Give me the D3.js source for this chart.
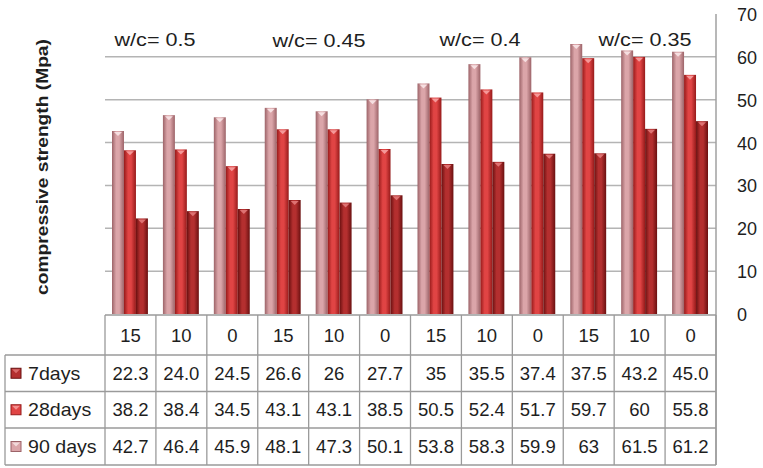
<!DOCTYPE html>
<html>
<head>
<meta charset="utf-8">
<script src="https://cdn.jsdelivr.net/npm/d3@7"></script>
<style>
  html, body { margin: 0; padding: 0; background: #fff; }
  svg { display: block; font-family: "Liberation Sans", Arial, Helvetica, sans-serif; }
</style>
</head>
<body>
<svg id="chart" width="763" height="468"></svg>
<script>
// Replacement level (%) per column, repeated for each w/c ratio
const categories = ["15", "10", "0", "15", "10", "0", "15", "10", "0", "15", "10", "0"];
const ratioLabels = ["w/c= 0.5", "w/c= 0.45", "w/c= 0.4", "w/c= 0.35"];
const seriesNames = ["7days", "28days", "90 days"];
const days7  = [22.3, 24.0, 24.5, 26.6, 26, 27.7, 35, 35.5, 37.4, 37.5, 43.2, 45.0];
const days28 = [38.2, 38.4, 34.5, 43.1, 43.1, 38.5, 50.5, 52.4, 51.7, 59.7, 60, 55.8];
const days90 = [42.7, 46.4, 45.9, 48.1, 47.3, 50.1, 53.8, 58.3, 59.9, 63, 61.5, 61.2];
const tableText7  = ["22.3", "24.0", "24.5", "26.6", "26", "27.7", "35", "35.5", "37.4", "37.5", "43.2", "45.0"];
const tableText28 = ["38.2", "38.4", "34.5", "43.1", "43.1", "38.5", "50.5", "52.4", "51.7", "59.7", "60", "55.8"];
const tableText90 = ["42.7", "46.4", "45.9", "48.1", "47.3", "50.1", "53.8", "58.3", "59.9", "63", "61.5", "61.2"];
const yTicks = [0, 10, 20, 30, 40, 50, 60, 70];

const svg = d3.select("#chart");
const plotLeft = 105, plotRight = 716, plotTop = 14, plotBottom = 314;
const tableTop = 315, headerBottom = 355, tableBottom = 465, labelLeft = 5;
const textColor = "#1e1e1e";
// horizontal centres of the w/c captions above the plot
const ratioLabelCenters = [155, 319, 480, 645];

const x = d3.scaleBand().domain(d3.range(categories.length)).range([plotLeft, plotRight]).padding(0);
const y = d3.scaleLinear().domain([0, 70]).range([plotBottom, plotTop]);

// series drawn left to right inside each column: 90 days, 28days, 7days
const barSeries = [
  { name: "90 days", values: days90, edge: "#9c6368", mid: "#dba5a9", hi: "#f8e6e7" },
  { name: "28days",  values: days28, edge: "#961a1a", mid: "#e04444", hi: "#f7a2a2" },
  { name: "7days",   values: days7,  edge: "#6a1010", mid: "#b42f2f", hi: "#e27a7a" }
];
const inner = d3.scaleBand().domain(barSeries.map(d => d.name)).range([7, x.bandwidth() - 8]).padding(0);

// cylinder-like horizontal gradients
const defs = svg.append("defs");
barSeries.forEach((s, i) => {
  const g = defs.append("linearGradient").attr("id", "grad" + i)
    .attr("x1", "0%").attr("x2", "100%").attr("y1", "0%").attr("y2", "0%");
  g.append("stop").attr("offset", "0%").attr("stop-color", s.edge);
  g.append("stop").attr("offset", "35%").attr("stop-color", s.mid);
  g.append("stop").attr("offset", "60%").attr("stop-color", s.mid);
  g.append("stop").attr("offset", "100%").attr("stop-color", s.edge);
});

// gridlines
svg.append("g").selectAll("line").data(yTicks.filter(t => t > 0 && t < 70)).join("line")
  .attr("x1", plotLeft).attr("x2", plotRight)
  .attr("y1", d => y(d)).attr("y2", d => y(d))
  .attr("stroke", "#b4b4b4").attr("stroke-width", 1.5);

// right value axis
const yAxis = d3.axisRight(y).tickValues(yTicks).tickSize(0).tickPadding(0);
const axisG = svg.append("g").attr("transform", `translate(${plotRight},0)`).call(yAxis);
axisG.select(".domain").remove();
axisG.selectAll("text").attr("x", 21).attr("dy", "0.36em")
  .attr("font-size", 18).attr("fill", textColor).attr("text-anchor", "start")
  .style("font-family", "'Liberation Sans', Arial, sans-serif");
svg.append("line").attr("x1", plotRight).attr("x2", plotRight)
  .attr("y1", plotTop).attr("y2", tableBottom).attr("stroke", "#a0a0a0").attr("stroke-width", 1.5);

// bars
barSeries.forEach((s, si) => {
  const g = svg.append("g");
  g.selectAll("rect").data(s.values).join("rect")
    .attr("x", (d, i) => x(i) + inner(s.name))
    .attr("y", d => y(d))
    .attr("width", inner.bandwidth())
    .attr("height", d => y(0) - y(d))
    .attr("fill", `url(#grad${si})`);
  // small light cap at the top of each bar
  g.selectAll("path").data(s.values).join("path")
    .attr("d", (d, i) => {
      const x0 = x(i) + inner(s.name), w = inner.bandwidth(), yt = y(d);
      return `M${x0 + 2},${yt + 1}L${x0 + w - 2},${yt + 1}L${x0 + w / 2},${yt + 5}Z`;
    })
    .attr("fill", s.hi).attr("opacity", 0.9);
});

// w/c captions
svg.append("g").selectAll("text").data(ratioLabels).join("text")
  .attr("transform", (d, i) => `translate(${ratioLabelCenters[i]},${[46, 47, 46, 46][i]}) scale(1.2,1)`)
  .attr("text-anchor", "middle").attr("font-size", 18).attr("fill", textColor)
  .text(d => d);

// y axis title
svg.append("text")
  .attr("transform", `translate(48,167) rotate(-90) scale(1.2,1)`)
  .attr("text-anchor", "middle").attr("font-size", 16).attr("font-weight", "bold").attr("fill", textColor)
  .text("compressive strength (Mpa)");

// data table
const rowEdges = [headerBottom, 391.5, 428, tableBottom];
const grid = svg.append("g").attr("stroke", "#9a9a9a").attr("stroke-width", 1.3);
grid.append("line").attr("x1", plotLeft).attr("x2", plotRight).attr("y1", tableTop).attr("y2", tableTop);
grid.selectAll("line.h").data(rowEdges).join("line").attr("class", "h")
  .attr("x1", labelLeft).attr("x2", plotRight).attr("y1", d => d).attr("y2", d => d);
grid.selectAll("line.v").data(d3.range(categories.length + 1)).join("line").attr("class", "v")
  .attr("x1", i => plotLeft + i * x.step()).attr("x2", i => plotLeft + i * x.step())
  .attr("y1", tableTop).attr("y2", tableBottom);
grid.append("line").attr("x1", labelLeft).attr("x2", labelLeft).attr("y1", headerBottom).attr("y2", tableBottom);

// header row: replacement levels
svg.append("g").selectAll("text").data(categories).join("text")
  .attr("x", (d, i) => x(i) + x.bandwidth() / 2)
  .attr("y", (tableTop + headerBottom) / 2).attr("dy", "0.36em")
  .attr("text-anchor", "middle").attr("font-size", 18.5).attr("fill", textColor)
  .text(d => d);

// value rows
const rows = [
  { name: seriesNames[0], texts: tableText7,  key: 2 },
  { name: seriesNames[1], texts: tableText28, key: 1 },
  { name: seriesNames[2], texts: tableText90, key: 0 }
];
rows.forEach((r, ri) => {
  const cy = (rowEdges[ri] + rowEdges[ri + 1]) / 2;
  const g = svg.append("g");
  g.selectAll("text").data(r.texts).join("text")
    .attr("x", (d, i) => x(i) + x.bandwidth() / 2)
    .attr("y", cy).attr("dy", "0.36em")
    .attr("text-anchor", "middle").attr("font-size", 18.5).attr("fill", textColor)
    .text(d => d);
  const s = barSeries[r.key];
  g.append("rect").attr("x", 11).attr("y", cy - 5).attr("width", 10).attr("height", 10)
    .attr("fill", s.mid).attr("stroke", s.edge).attr("stroke-width", 1);
  g.append("path")
    .attr("d", `M12,${cy - 4}L20,${cy - 4}L16,${cy}Z`).attr("fill", s.hi).attr("opacity", 0.8);
  g.append("text").attr("transform", `translate(28,${cy}) scale(1.06,1)`).attr("dy", "0.36em")
    .attr("font-size", 18.5).attr("fill", textColor).text(r.name);
});
</script>
</body>
</html>
